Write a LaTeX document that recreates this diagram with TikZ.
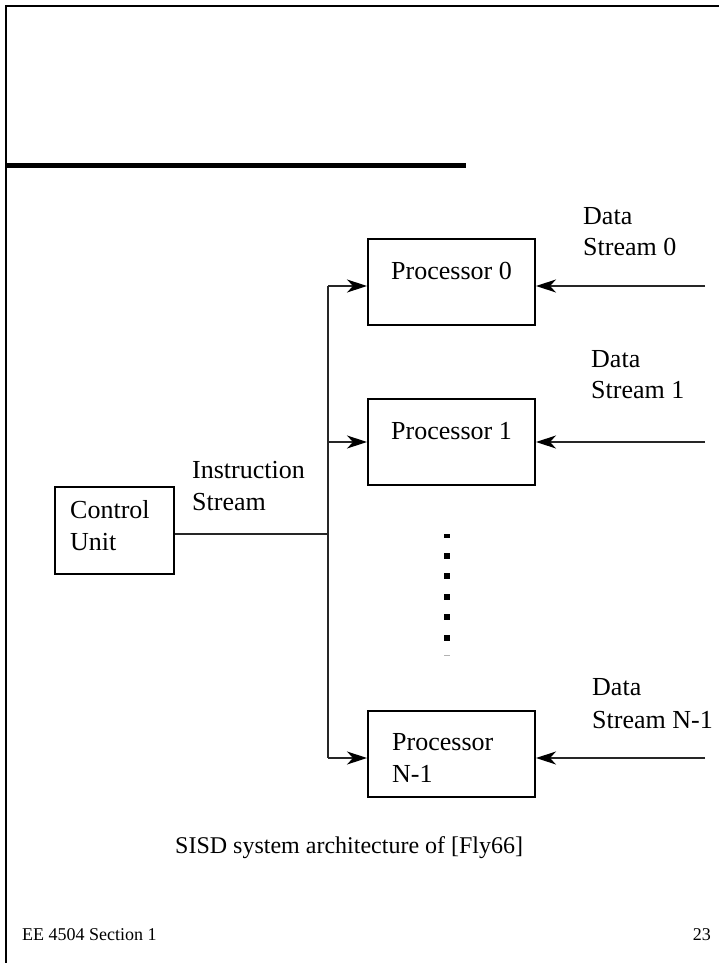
\documentclass[tikz,border=0pt]{standalone}
\usepackage{fontspec}
\setmainfont{Liberation Serif}
\usetikzlibrary{arrows.meta}
\begin{document}
\begin{tikzpicture}[x=1pt,y=-1pt,
  box/.style={draw=black,line width=2pt,minimum width=167pt,minimum height=86pt,inner sep=0pt},
  lbl/.style={font=\fontsize{26}{31}\selectfont,inner sep=0pt,anchor=base west},
  mid/.style={font=\fontsize{26}{31}\selectfont,inner sep=0pt,anchor=base},
  small/.style={font=\fontsize{18}{22}\selectfont,inner sep=0pt},
  wire/.style={draw=black!85,line width=1.2pt},
  feed/.style={wire,-{Stealth[length=20pt,width=13pt,inset=6pt,black]}}
]
\useasboundingbox (0,0) rectangle (719,963);

% slide frame and title rule
\draw[line width=2pt] (6,963) -- (6,6) -- (719,6);
\draw[line width=5pt] (6,165) -- (466,165);

% control unit
\node[box,minimum width=119pt,minimum height=87pt] (cu) at (114.5,530.5) {};
\node[lbl] (cut1) at (70,518) {Control};
\node[lbl] (cut2) at (70,550) {Unit};
\node[lbl] (is1) at (192,478) {Instruction};
\node[lbl] (is2) at (192,510) {Stream};

% processors
\node[box] (p0) at (451.5,282) {};
\node[mid] (p0t) at (451.5,279) {Processor 0};
\node[box] (p1) at (451.5,442) {};
\node[mid] (p1t) at (451.5,439) {Processor 1};
\node[box] (pn) at (451.5,754) {};
\node[lbl] (pnt1) at (392,750) {Processor};
\node[lbl] (pnt2) at (392,782) {N-1};

% instruction bus
\coordinate (j) at (328,534);
\coordinate (b0) at (328,286);
\coordinate (b1) at (328,442);
\coordinate (bn) at (328,758);
\draw[wire] (j -| cu.east) -- (j);
\draw[wire] (b0) -- (bn);
\draw[feed] (b0) -- (b0 -| p0.west);
\draw[feed] (b1) -- (b1 -| p1.west);
\draw[feed] (bn) -- (bn -| pn.west);

% data streams
\coordinate (r0) at (705,286);
\coordinate (r1) at (705,442);
\coordinate (rn) at (705,758);
\draw[feed] (r0) -- (r0 -| p0.east);
\draw[feed] (r1) -- (r1 -| p1.east);
\draw[feed] (rn) -- (rn -| pn.east);
\node[lbl] (d0a) at (583,224) {Data};
\node[lbl] (d0b) at (583,255) {Stream 0};
\node[lbl] (d1a) at (591,367) {Data};
\node[lbl] (d1b) at (591,398) {Stream 1};
\node[lbl] (dna) at (592,695) {Data};
\node[lbl] (dnb) at (592,728) {Stream N-1};

% ellipsis between processors
\fill (444,534) rectangle +(6,3.7);
\foreach \t in {553,573,594,614,635}
  \fill (444,\t) rectangle +(6,6);
\fill[black!30] (444,654.5) rectangle +(6,1);

% caption and footer
\node[lbl,font=\fontsize{24}{29}\selectfont] (cap) at (175,853) {SISD system architecture of [Fly66]};
\node[small,anchor=base west] (foot) at (22,940) {EE 4504 Section 1};
\node[small,anchor=base east] (page) at (711,940) {23};
\end{tikzpicture}
\end{document}
